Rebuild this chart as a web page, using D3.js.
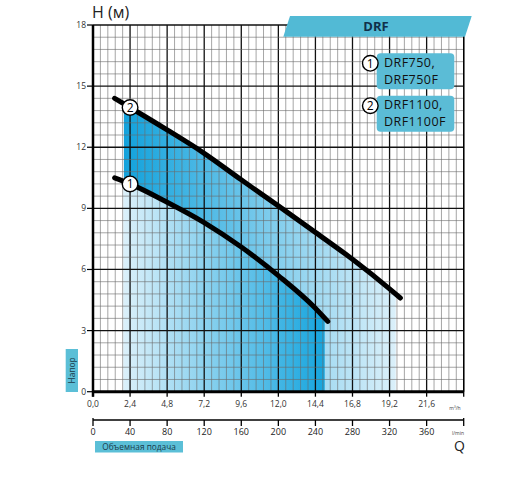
<!DOCTYPE html>
<html>
<head>
<meta charset="utf-8">
<script src="https://cdn.jsdelivr.net/npm/d3@7"></script>
<style>
  body { margin: 0; background: #fff; }
  svg { font-family: "Open Sans", sans-serif; }
</style>
</head>
<body>
<div id="chart"></div>
<script>
// Данные
const qTicks = [0, 2.4, 4.8, 7.2, 9.6, 12.0, 14.4, 16.8, 19.2, 21.6]
const qLabels = ['0,0', '2,4', '4,8', '7,2', '9,6', '12,0', '14,4', '16,8', '19,2', '21,6']
const lminTicks = [0, 40, 80, 120, 160, 200, 240, 280, 320, 360]
const hTicks = [0, 3, 6, 9, 12, 15, 18]

// кривая 1: DRF750, DRF750F
const q1 = [1.4, 2.4, 4.8, 7.2, 9.6, 12.0, 14.4, 15.2]
const h1 = [10.5, 10.2, 9.3, 8.3, 7.1, 5.7, 4.1, 3.45]
// кривая 2: DRF1100, DRF1100F
const q2 = [1.4, 2.4, 4.8, 7.2, 9.6, 12.0, 14.4, 16.8, 19.2, 19.9]
const h2 = [14.4, 13.95, 12.85, 11.7, 10.4, 9.12, 7.82, 6.5, 5.05, 4.6]

// рабочие зоны (м3/ч)
const zone1 = [2, 15]
const zone2 = [2, 19.6]

const legendNames = [['DRF750,', 'DRF750F'], ['DRF1100,', 'DRF1100F']]
const labelQ = 2.4

const W = 512, H = 482

const svg = d3.select('#chart').append('svg')
  .attr('width', W).attr('height', H)

const x = d3.scaleLinear().domain([0, 24]).range([93, 463.7])
const xl = d3.scaleLinear().domain([0, 400]).range([93, 463.7])
const y = d3.scaleLinear().domain([0, 18]).range([391.7, 25])

const pts1 = q1.map((q, i) => [q, h1[i]])
const pts2 = q2.map((q, i) => [q, h2[i]])

// градиенты
const defs = svg.append('defs')
function grad(id, from, to, zone){
  let g = defs.append('linearGradient').attr('id', id)
    .attr('gradientUnits', 'userSpaceOnUse')
    .attr('x1', x(zone[0])).attr('x2', x(zone[1])).attr('y1', 0).attr('y2', 0)
  g.append('stop').attr('offset', 0).attr('stop-color', from)
  g.append('stop').attr('offset', 1).attr('stop-color', to)
}
grad('g2', '#12a2dc', '#dbf0fa', zone2)
grad('g1', '#dbf0fa', '#16a5de', zone1)

function clip(id, zone){
  defs.append('clipPath').attr('id', id).append('rect')
    .attr('x', x(zone[0])).attr('y', 0)
    .attr('width', x(zone[1]) - x(zone[0])).attr('height', y(0))
}
clip('c2', zone2)
clip('c1', zone1)

const area = d3.area().curve(d3.curveMonotoneX)
  .x(d => x(d[0])).y0(y(0)).y1(d => y(d[1]))

svg.append('path').datum(pts2).attr('d', area)
  .attr('fill', 'url(#g2)').attr('clip-path', 'url(#c2)')
svg.append('path').datum(pts1).attr('d', area)
  .attr('fill', 'url(#g1)').attr('clip-path', 'url(#c1)')

// сетка
const grid = svg.append('g')
d3.range(0, 24.01, 0.48).forEach((v, i) => {
  grid.append('line')
    .attr('x1', x(v)).attr('x2', x(v)).attr('y1', y(18)).attr('y2', y(0))
    .attr('stroke', i % 5 == 0 ? '#111' : '#6a6a6a')
    .attr('stroke-width', i % 5 == 0 ? 1.3 : 0.6)
})
d3.range(0, 18.01, 0.6).forEach((v, i) => {
  grid.append('line')
    .attr('x1', x(0)).attr('x2', x(24)).attr('y1', y(v)).attr('y2', y(v))
    .attr('stroke', i % 5 == 0 ? '#111' : '#6a6a6a')
    .attr('stroke-width', i % 5 == 0 ? 1.3 : 0.6)
})

// оси
svg.append('line').attr('x1', x(0)).attr('x2', x(0)).attr('y1', y(18)).attr('y2', y(0) + 5)
  .attr('stroke', '#000').attr('stroke-width', 2.5)
svg.append('line').attr('x1', x(0) - 1).attr('x2', x(24)).attr('y1', y(0)).attr('y2', y(0))
  .attr('stroke', '#000').attr('stroke-width', 3)
svg.append('line').attr('x1', x(24)).attr('x2', x(24)).attr('y1', y(18)).attr('y2', y(0) + 5)
  .attr('stroke', '#000').attr('stroke-width', 1.3)

// подписи H
hTicks.forEach(v => {
  svg.append('line').attr('x1', x(0) - 6).attr('x2', x(0)).attr('y1', y(v)).attr('y2', y(v))
    .attr('stroke', '#000').attr('stroke-width', 1.2)
  svg.append('text').attr('x', x(0) - 7).attr('y', y(v)).attr('dy', '0.35em')
    .attr('text-anchor', 'end').attr('font-size', 8.5).attr('fill', '#333').text(v)
})

// подписи Q м3/ч
qTicks.forEach((v, i) => {
  svg.append('line').attr('x1', x(v)).attr('x2', x(v)).attr('y1', y(0)).attr('y2', y(0) + 5)
    .attr('stroke', '#000').attr('stroke-width', 1.3)
  svg.append('text').attr('x', x(v)).attr('y', 407)
    .attr('text-anchor', 'middle').attr('font-size', 8.5).attr('fill', '#333').text(qLabels[i])
})
svg.append('text').attr('x', 455).attr('y', 410).attr('text-anchor', 'middle')
  .attr('font-size', 5).attr('fill', '#444').text('m³/h')

// вторая ось л/мин
const ly = 420
svg.append('line').attr('x1', xl(0)).attr('x2', xl(400)).attr('y1', ly).attr('y2', ly)
  .attr('stroke', '#000').attr('stroke-width', 1.5)
lminTicks.concat([400]).forEach(v => {
  svg.append('line').attr('x1', xl(v)).attr('x2', xl(v))
    .attr('y1', (v == 0 || v == 400) ? ly - 2 : ly).attr('y2', ly + 6)
    .attr('stroke', '#000').attr('stroke-width', 1.3)
})
lminTicks.forEach(v => {
  svg.append('text').attr('x', xl(v)).attr('y', 435)
    .attr('text-anchor', 'middle').attr('font-size', 9).attr('fill', '#222').text(v)
})
svg.append('text').attr('x', 458).attr('y', 435).attr('text-anchor', 'middle')
  .attr('font-size', 5).attr('fill', '#444').text('l/min')
svg.append('text').attr('x', 459.5).attr('y', 451).attr('text-anchor', 'middle')
  .attr('font-size', 14).attr('fill', '#222').text('Q')

// плашки подписей осей
svg.append('rect').attr('x', 95).attr('y', 441).attr('width', 88).attr('height', 11.5)
  .attr('fill', '#5bbfd7')
svg.append('text').attr('x', 139).attr('y', 446.8).attr('dy', '0.35em')
  .attr('text-anchor', 'middle').attr('font-size', 8.3).attr('fill', '#1a3a4a').text('Объемная подача')

svg.append('rect').attr('x', 65.7).attr('y', 349).attr('width', 12.3).attr('height', 43)
  .attr('fill', '#5bbfd7')
svg.append('text').attr('transform', 'translate(72,370.5) rotate(-90)').attr('dy', '0.35em')
  .attr('text-anchor', 'middle').attr('font-size', 8.3).attr('fill', '#1a3a4a').text('Напор')

svg.append('text').attr('x', 92).attr('y', 18).attr('font-size', 16).attr('fill', '#222').text('H (м)')

// баннер DRF
svg.append('polygon')
  .attr('points', [[290, 16], [471.7, 16], [465, 36.7], [283.3, 36.7]].join(' '))
  .attr('fill', '#52bad5')
svg.append('text').attr('x', 376).attr('y', 26.8).attr('dy', '0.35em')
  .attr('text-anchor', 'middle').attr('font-size', 13).attr('font-weight', 'bold')
  .attr('fill', '#10304a').text('DRF')

// кривые
const line = d3.line().curve(d3.curveMonotoneX).x(d => x(d[0])).y(d => y(d[1]))
;[pts1, pts2].forEach(p => {
  svg.append('path').datum(p).attr('d', line)
    .attr('fill', 'none').attr('stroke', '#000').attr('stroke-width', 5)
    .attr('stroke-linecap', 'round')
})

function badge(cx, cy, n){
  svg.append('circle').attr('cx', cx).attr('cy', cy).attr('r', 7.8)
    .attr('fill', '#fff').attr('stroke', '#000').attr('stroke-width', 1.4)
  svg.append('text').attr('x', cx).attr('y', cy).attr('dy', '0.36em')
    .attr('text-anchor', 'middle').attr('font-size', 12).attr('fill', '#000').text(n)
}
const hAt = (qs, hs, q) => d3.scaleLinear().domain(qs).range(hs)(q)
badge(x(labelQ), y(hAt(q1, h1, labelQ)), 1)
badge(x(labelQ), y(hAt(q2, h2, labelQ)), 2)

// легенда
legendNames.forEach((nm, i) => {
  let top = 53.3 + i * 42.4
  svg.append('rect').attr('x', 376.7).attr('y', top).attr('width', 77.6).attr('height', 36)
    .attr('rx', 4).attr('fill', '#5bbcd6')
  badge(370.3, top + 10, i + 1)
  svg.append('text').attr('x', 384).attr('y', top + 13.5).attr('font-size', 12.5)
    .attr('letter-spacing', 0.45).attr('fill', '#111').text(nm[0])
  svg.append('text').attr('x', 384).attr('y', top + 30.5).attr('font-size', 12.5)
    .attr('letter-spacing', 0.45).attr('fill', '#111').text(nm[1])
})
</script>
</body>
</html>
